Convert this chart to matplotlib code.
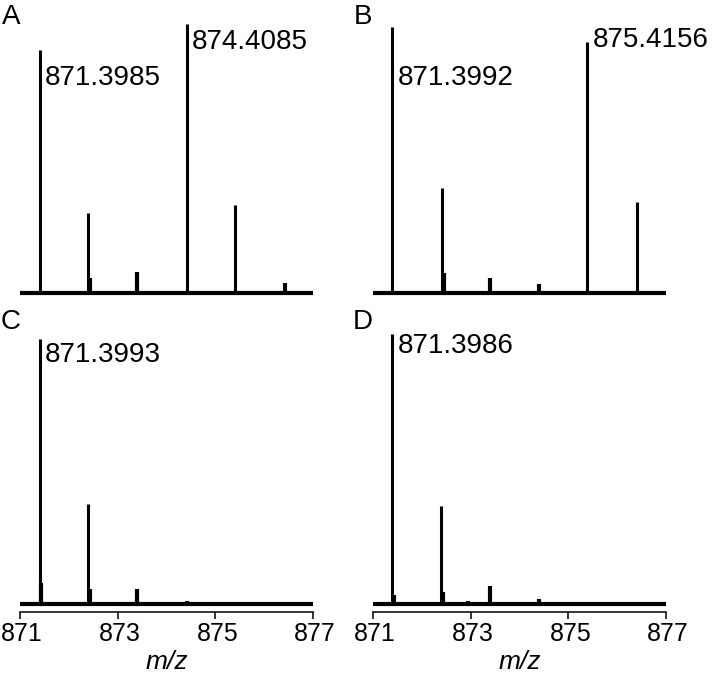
import matplotlib
matplotlib.use("Agg")
import matplotlib.pyplot as plt
import matplotlib.transforms as mtransforms

plt.rcParams['font.family'] = ['Liberation Sans', 'DejaVu Sans']

# --- peak lists (m/z, relative intensity) ---
mz_a = [871.40, 872.40, 872.44, 873.40, 874.41, 875.41, 876.42]
int_a = [90.0, 29.6, 5.5, 7.8, 99.6, 32.6, 3.7]

mz_b = [871.39, 872.41, 872.45, 873.39, 874.39, 875.39, 876.40]
int_b = [98.5, 38.9, 7.4, 5.6, 3.3, 93.0, 33.7]

mz_c = [871.40, 871.44, 872.40, 872.44, 873.40, 874.41]
int_c = [98.0, 7.8, 37.0, 5.6, 5.6, 1.2]

mz_d = [871.39, 871.44, 872.40, 872.44, 872.94, 873.39, 874.39, 875.72]
int_d = [100.0, 3.3, 36.3, 4.5, 0.9, 6.7, 1.8, 0.5]

# labelled peaks: (text, m/z, label baseline height)
labels_a = [("871.3985", 871.40, 77), ("874.4085", 874.41, 90.5)]
labels_b = [("871.3992", 871.39, 77), ("875.4156", 875.39, 91)]
labels_c = [("871.3993", 871.40, 89.5)]
labels_d = [("871.3986", 871.39, 93)]

panels = [
    ("A", mz_a, int_a, labels_a),
    ("B", mz_b, int_b, labels_b),
    ("C", mz_c, int_c, labels_c),
    ("D", mz_d, int_d, labels_d),
]

xticks = [871, 873, 875, 877]

fig = plt.figure(figsize=(7.12, 6.74), dpi=100)
W, H = 712, 674

# axes boxes in pixels: left, bottom(from top), width, height
boxes = [(20, 301, 293, 278), (373, 301, 293, 278),
         (20, 612, 293, 278), (373, 612, 293, 278)]
letter_pos = [(2, 24), (354, 24), (1, 329), (353, 329)]

shift = mtransforms.ScaledTranslation(2 / 100, 0, fig.dpi_scale_trans)

for i, (name, mz, inten, labels) in enumerate(panels):
    l, b, w, h = boxes[i]
    ax = fig.add_axes([l / W, (H - b) / H, w / W, h / H])
    ax.set_xlim(871, 877)
    ax.set_ylim(-3, 100)

    ax.axhline(0, color='black', lw=3.0, zorder=3)
    widths = [2.2 if v > 10 else 3.0 for v in inten]
    ax.vlines(mz, 0, inten, colors='black', linewidths=widths, zorder=4)

    for txt, x, y in labels:
        ax.annotate(txt, xy=(x, y), xytext=(4, 0), textcoords='offset points',
                    fontsize=20, va='baseline', ha='left')

    for s in ['top', 'right', 'left']:
        ax.spines[s].set_visible(False)
    ax.set_yticks([])

    if i < 2:
        ax.spines['bottom'].set_visible(False)
        ax.set_xticks([])
    else:
        ax.spines['bottom'].set_linewidth(1.1)
        ax.set_xticks(xticks)
        ax.set_xticklabels([str(t) for t in xticks])
        ax.tick_params(axis='x', direction='out', length=5, width=1.1,
                       labelsize=18, pad=2)
        for lab in ax.get_xticklabels():
            lab.set_transform(lab.get_transform() + shift)
        ax.set_xlabel('m/z', fontsize=19, style='italic', labelpad=3)

    fig.text(letter_pos[i][0] / W, (H - letter_pos[i][1]) / H, name,
             fontsize=20, ha='left', va='baseline')

fig.savefig("out.png", dpi=100)
